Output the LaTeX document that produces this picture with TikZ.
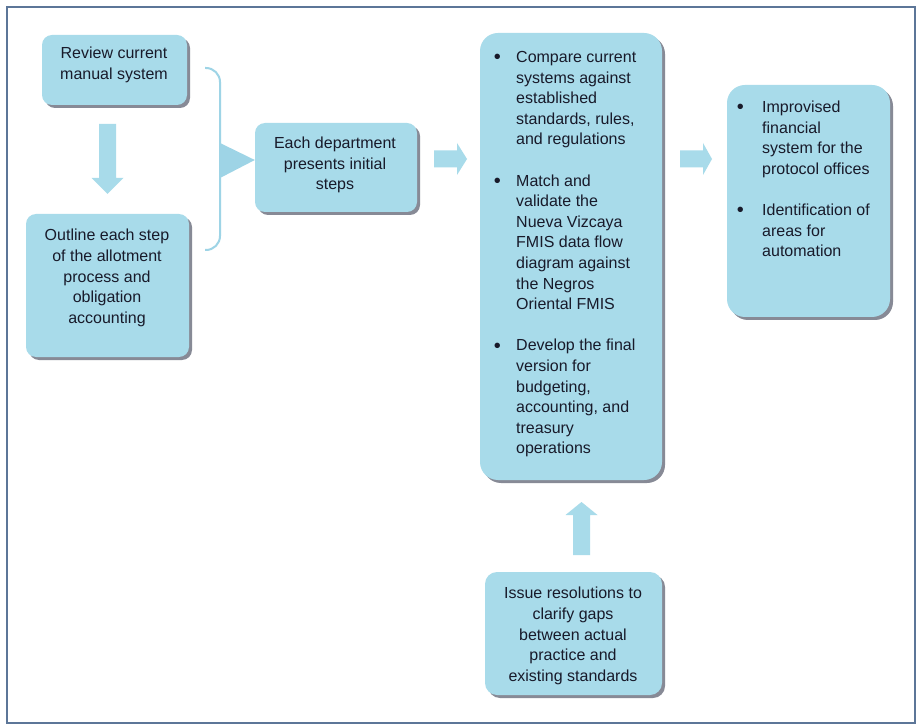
\documentclass[tikz,border=0pt]{standalone}
\usepackage{fontspec}
\setmainfont{Liberation Sans}
\usetikzlibrary{calc,shadows}

\definecolor{panelfill}{RGB}{168,219,234}
\definecolor{panelshade}{RGB}{135,138,150}
\definecolor{framecol}{RGB}{92,118,152}
\definecolor{inkcol}{RGB}{24,26,42}
\definecolor{bracecol}{RGB}{158,212,230}

% wide block arrow from tail #1 to tip #2, head length #3
\newcommand\blockarrow[3]{%
  \coordinate (hb) at ($(#2)!#3!(#1)$);
  \fill[flow] ($(#1)!8.5pt!90:(#2)$) -- ($(hb)!8.5pt!90:(#2)$)
    -- ($(hb)!16pt!90:(#2)$) -- (#2) -- ($(hb)!16pt!-90:(#2)$)
    -- ($(hb)!8.5pt!-90:(#2)$) -- ($(#1)!8.5pt!-90:(#2)$) -- cycle;}

\newcommand\bigdot{\raisebox{-1.2pt}{\fontsize{20}{20.6}\selectfont\textbullet}}
\newcommand\bul{\makebox[21.8pt][l]{\kern-0.6pt\bigdot}}
\newcommand\bulw{\makebox[24.8pt][l]{\kern-0.6pt\bigdot}}

\begin{document}
\begin{tikzpicture}[x=1pt,y=-1pt,
  panel/.style={rectangle, fill=panelfill, rounded corners=#1, inner sep=0pt,
    drop shadow={shadow xshift=3pt, shadow yshift=-3pt, fill=panelshade, opacity=1}},
  panel/.default=10pt,
  boxtext/.style={inner sep=0pt, align=center, text=inkcol,
    font=\fontsize{16}{20.6}\selectfont},
  flow/.style={fill=panelfill},
]
\fill[white] (0,0) rectangle (921,727);
\useasboundingbox (0,0) rectangle (921,727);
\draw[framecol, line width=2.5pt] (7,7) rectangle (915,723);

% boxes
\node[panel, minimum width=145pt, minimum height=70pt] (b1) at (114.5,70) {};
\node[panel, minimum width=163pt, minimum height=143pt] (b2) at (107.5,285.5) {};
\node[panel, minimum width=162pt, minimum height=89pt] (b3) at (336,167.5) {};
\node[panel=18pt, minimum width=182pt, minimum height=447pt] (b4) at (571,256.5) {};
\node[panel=18pt, minimum width=163pt, minimum height=232pt] (b5) at (808.5,201) {};
\node[panel=12pt, minimum width=177pt, minimum height=123pt] (b6) at (573.5,633.5) {};

% brace gathering the two left steps
\coordinate (bt) at (205,68);
\coordinate (bb) at (205,250);
\coordinate (bm) at (b3.west |- 0,160);
\draw[bracecol, line width=2pt, rounded corners=14pt] (bt) -- (220,68) -- (220,250) -- (bb);
\fill[bracecol] (220,143) -- (bm) -- (220,178) -- cycle;

% block arrows
\coordinate (d1) at (107.5,124);
\coordinate (d2) at (107.5,194);
\blockarrow{d1}{d2}{16pt}
\coordinate (r1) at (434,159);
\coordinate (r2) at (467,159);
\blockarrow{r1}{r2}{10pt}
\coordinate (r3) at (680,159);
\coordinate (r4) at (712,159);
\blockarrow{r3}{r4}{9pt}
\coordinate (u1) at (581.5,555);
\coordinate (u2) at (581.5,502);
\blockarrow{u1}{u2}{13pt}

% texts
\node[boxtext] (t1) at (114,65) {Review current\\manual system};
\node[boxtext] (t2) at (107,278) {Outline each step\\of the allotment\\process and\\obligation\\accounting};
\node[boxtext] (t3) at (335,165) {Each department\\presents initial\\steps};
\node[boxtext, anchor=west, align=left] (t4) at (494.2,254) {%
\begin{tabular}{@{}l@{}l@{}}
\bul & Compare current\\
 & systems against\\
 & established\\
 & standards, rules,\\
 & and regulations\\
 & \\
\bul & Match and\\
 & validate the\\
 & Nueva Vizcaya\\
 & FMIS data flow\\
 & diagram against\\
 & the Negros\\
 & Oriental FMIS\\
 & \\
\bul & Develop the final\\
 & version for\\
 & budgeting,\\
 & accounting, and\\
 & treasury\\
 & operations
\end{tabular}};
\node[boxtext, anchor=west, align=left] (t5) at (737.2,180.5) {%
\begin{tabular}{@{}l@{}l@{}}
\bulw & Improvised\\
 & financial\\
 & system for the\\
 & protocol offices\\
 & \\
\bulw & Identification of\\
 & areas for\\
 & automation
\end{tabular}};
\node[boxtext] (t6) at (573,636) {Issue resolutions to\\clarify gaps\\between actual\\practice and\\existing standards};
\end{tikzpicture}
\end{document}
